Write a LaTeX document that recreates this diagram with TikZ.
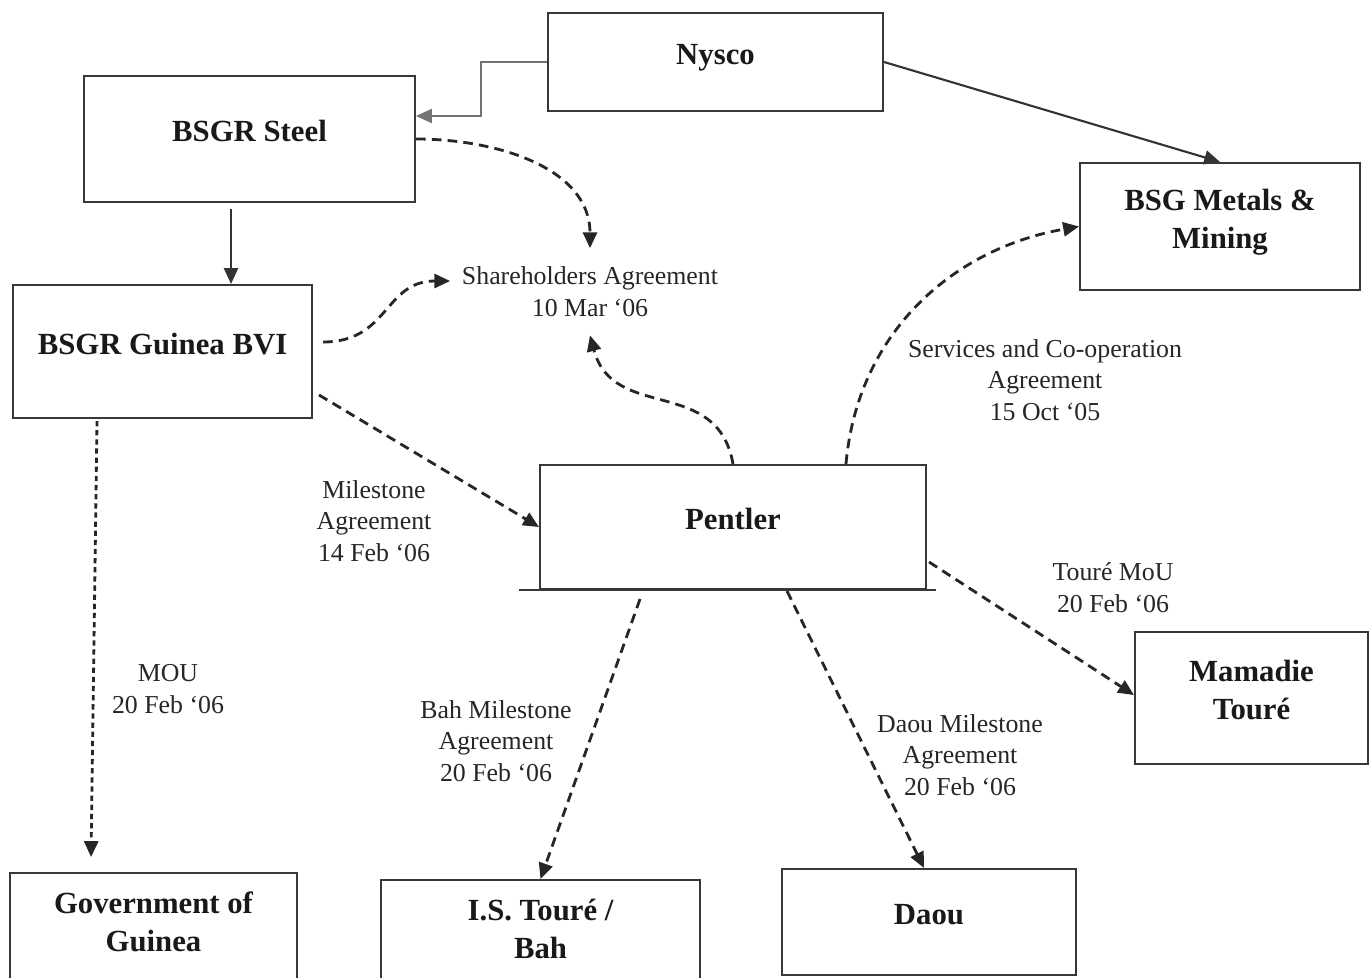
\documentclass[tikz,border=0pt]{standalone}
\usepackage{fontspec}
\setmainfont{Liberation Serif}
\usetikzlibrary{arrows.meta}

\begin{document}
\begin{tikzpicture}[x=0.02cm,y=-0.02cm,
    party/.style={draw=black!78,line width=1.2pt,align=center,inner sep=0pt,
      text depth=0.32cm,text=black!90,font=\fontsize{17.5}{21.6}\selectfont\bfseries},
    deal/.style={align=center,inner sep=2pt,text=black!85,
      font=\fontsize{14.7}{18.1}\selectfont},
    link/.style={line width=1.6pt,black!85,dash pattern=on 5.5pt off 3.5pt,
      -{Triangle[length=9pt,width=8pt]}},
    owns/.style={line width=1.2pt,black!80,-{Triangle[length=9pt,width=8pt]}}]
  \clip (0,0) rectangle (1372,977);
  \fill[white] (0,0) rectangle (1372,977);

  \node[party,minimum width=6.7cm,minimum height=1.96cm] (nysco) at (715.5,62) {Nysco};
  \node[party,minimum width=6.62cm,minimum height=2.52cm] (steel) at (249.5,139) {BSGR Steel};
  \node[party,minimum width=5.6cm,minimum height=2.54cm] (metals) at (1220,226.5) {BSG Metals \&\\Mining};
  \node[party,minimum width=5.98cm,minimum height=2.66cm] (bvi) at (162.5,351.5) {BSGR Guinea BVI};
  \node[party,minimum width=7.72cm,minimum height=2.48cm] (pentler) at (733,527) {Pentler};
  \node[party,minimum width=4.66cm,minimum height=2.64cm] (mamadie) at (1251.5,698) {Mamadie\\Touré};
  \node[party,minimum width=5.74cm,minimum height=2.26cm] (gov) at (153.5,929.5) {Government of\\Guinea};
  \node[party,minimum width=6.38cm,minimum height=2.26cm] (isbah) at (540.5,936.5) {I.S. Touré /\\Bah};
  \node[party,minimum width=5.88cm,minimum height=2.12cm] (daou) at (929,922) {Daou};
  \draw[line width=1.2pt,black!78] ([xshift=-0.4cm]pentler.south west) -- ([xshift=0.18cm]pentler.south east);

  \node[deal] (sha) at (590,292) {Shareholders Agreement\\10 Mar ‘06};
  \node[deal] (services) at (1045,380) {Services and Co-operation\\Agreement\\15 Oct ‘05};
  \node[deal] (mstone) at (374,521) {Milestone\\Agreement\\14 Feb ‘06};
  \node[deal] (touremou) at (1113,588) {Touré MoU\\20 Feb ‘06};
  \node[deal] (mou) at (168,689) {MOU\\20 Feb ‘06};
  \node[deal] (bahlbl) at (496,741) {Bah Milestone\\Agreement\\20 Feb ‘06};
  \node[deal] (daoulbl) at (960,755) {Daou Milestone\\Agreement\\20 Feb ‘06};

  \draw[owns,black!55,line width=0.9pt] (nysco.west) -- ++(-66,0) |- ([yshift=0.46cm]steel.east);
  \draw[owns] (nysco.east) -- (metals.north);
  \draw[owns] ([xshift=-0.37cm,yshift=-0.12cm]steel.south) -- ([xshift=-0.37cm]steel.south |- bvi.north);

  \draw[link] (steel.east) to[out=0,in=90] ([yshift=0.3cm]sha.north);
  \draw[link] ([xshift=0.2cm,yshift=0.19cm]bvi.east) to[out=0,in=180,looseness=1.2] ([xshift=-0.16cm,yshift=0.22cm]sha.west);
  \draw[link] (pentler.north) to[out=100,in=-75,looseness=1.2] ([yshift=-0.29cm]sha.south);
  \draw[link] ([xshift=2.26cm]pentler.north) to[out=85,in=190] (metals.west);
  \draw[link] ([xshift=0.12cm,yshift=-0.87cm]bvi.east) -- (pentler.west);
  \draw[link,dash pattern=on 3pt off 2.2pt] ([xshift=-1.31cm,yshift=-0.04cm]bvi.south) -- ([xshift=-1.25cm,yshift=0.3cm]gov.north);
  \draw[link] ([xshift=-1.86cm,yshift=-0.18cm]pentler.south) -- (isbah.north);
  \draw[link] ([xshift=1.08cm,yshift=-0.02cm]pentler.south) -- ([xshift=-0.1cm]daou.north);
  \draw[link] ([xshift=0.04cm,yshift=-0.7cm]pentler.east) -- ([yshift=0.06cm]mamadie.west);
\end{tikzpicture}
\end{document}
